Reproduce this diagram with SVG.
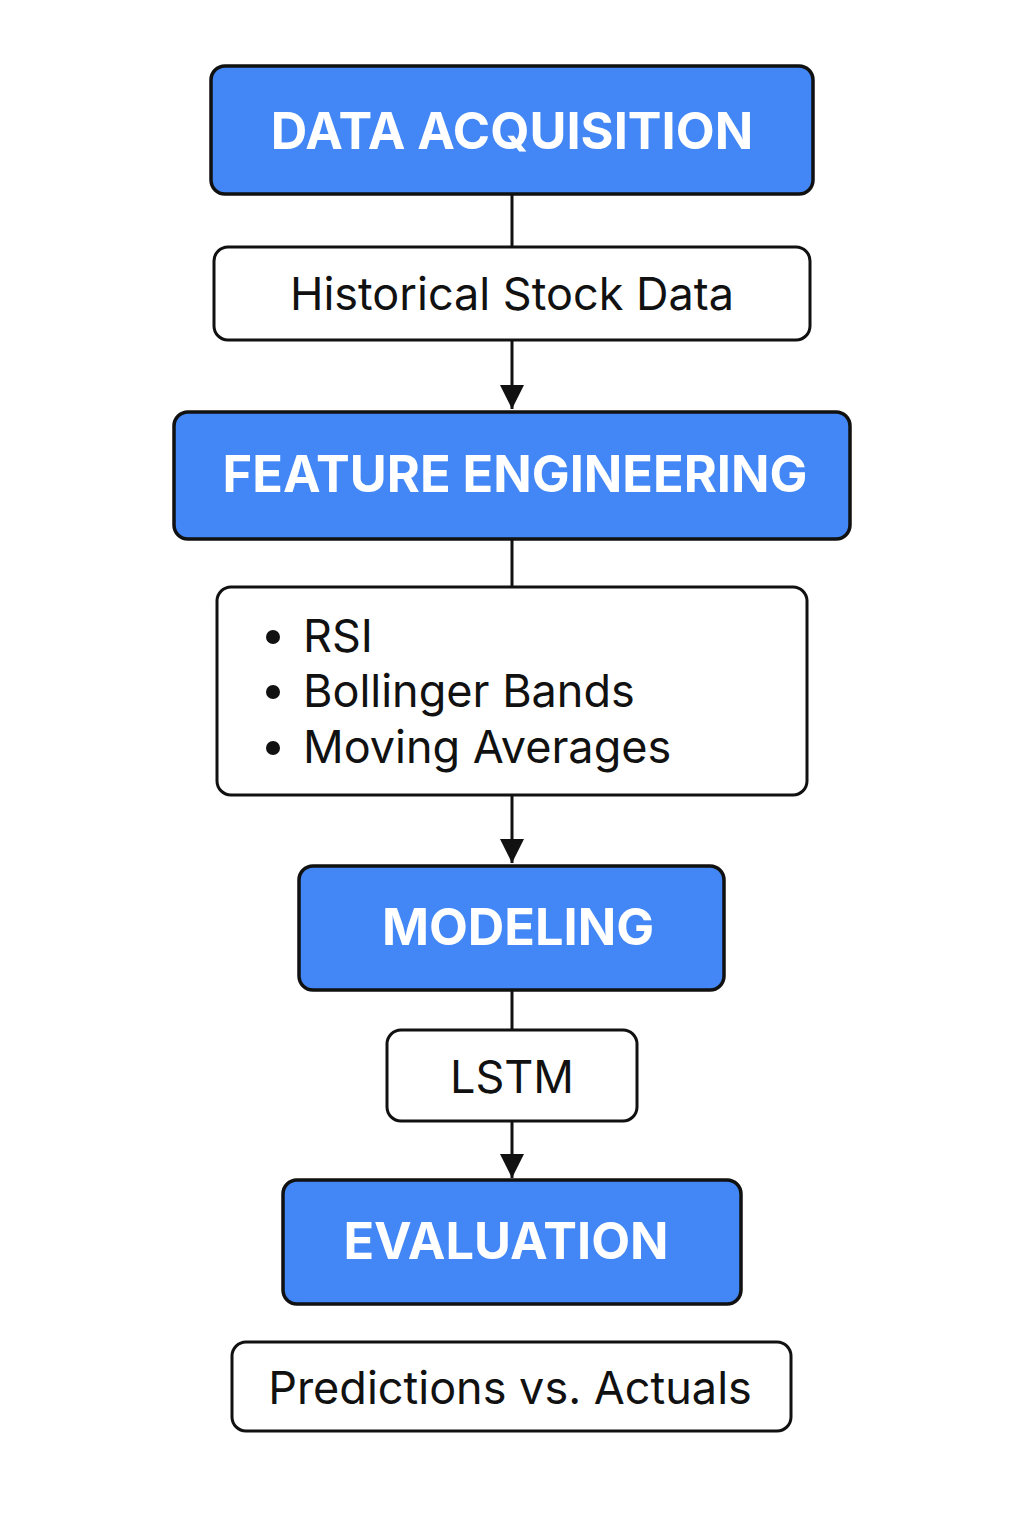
<svg xmlns="http://www.w3.org/2000/svg" width="1024" height="1536" viewBox="0 0 1024 1536">
<defs>
<marker id="arrow" viewBox="0 0 26 24" refX="24" refY="12" markerWidth="26" markerHeight="24" markerUnits="userSpaceOnUse" orient="auto">
<path d="M0,0 L24,12 L0,24 z" fill="#111"/>
</marker>
</defs>
<style>
.stage{fill:#4287f5;stroke:#111;stroke-width:3.5}
.item{fill:#fff;stroke:#111;stroke-width:3}
.st{font-family:Inter,"Liberation Sans",sans-serif;font-weight:700;font-size:50.5px;fill:#fff;text-anchor:middle}
.it{font-family:Inter,"Liberation Sans",sans-serif;font-weight:400;font-size:45px;fill:#111;text-anchor:middle}
.li{font-family:Inter,"Liberation Sans",sans-serif;font-weight:400;font-size:45px;fill:#111}
.cn{stroke:#111;stroke-width:3;fill:none}
</style>
<rect width="1024" height="1536" fill="#fff"/>
<g id="connectors">
<line class="cn" x1="512" y1="194" x2="512" y2="247"/>
<line class="cn" x1="512" y1="340" x2="512" y2="409" marker-end="url(#arrow)"/>
<line class="cn" x1="512" y1="539" x2="512" y2="587"/>
<line class="cn" x1="512" y1="795" x2="512" y2="863" marker-end="url(#arrow)"/>
<line class="cn" x1="512" y1="990" x2="512" y2="1030"/>
<line class="cn" x1="512" y1="1121" x2="512" y2="1178" marker-end="url(#arrow)"/>
</g>
<g id="data-acquisition">
<rect class="stage" x="211" y="66" width="602" height="128" rx="14"/>
<text class="st" x="512" y="149">DATA ACQUISITION</text>
</g>
<g id="historical-stock-data">
<rect class="item" x="214" y="247" width="596" height="93" rx="14"/>
<text class="it" x="512" y="310">Historical Stock Data</text>
</g>
<g id="feature-engineering">
<rect class="stage" x="174" y="412" width="676" height="127" rx="14"/>
<text class="st" x="515" y="492">FEATURE ENGINEERING</text>
</g>
<g id="features">
<rect class="item" x="217" y="587" width="590" height="208" rx="14"/>
<circle cx="273" cy="637" r="7" fill="#111"/>
<circle cx="273" cy="692" r="7" fill="#111"/>
<circle cx="273" cy="748" r="7" fill="#111"/>
<text class="li" x="303" y="652">RSI</text>
<text class="li" x="303" y="707">Bollinger Bands</text>
<text class="li" x="303" y="763">Moving Averages</text>
</g>
<g id="modeling">
<rect class="stage" x="299" y="866" width="425" height="124" rx="14"/>
<text class="st" x="518" y="945">MODELING</text>
</g>
<g id="lstm">
<rect class="item" x="387" y="1030" width="250" height="91" rx="14"/>
<text class="it" x="512" y="1093">LSTM</text>
</g>
<g id="evaluation">
<rect class="stage" x="283" y="1180" width="458" height="124" rx="14"/>
<text class="st" x="506" y="1259">EVALUATION</text>
</g>
<g id="predictions">
<rect class="item" x="232" y="1342" width="559" height="89" rx="14"/>
<text class="it" x="510" y="1404">Predictions vs. Actuals</text>
</g>
</svg>
